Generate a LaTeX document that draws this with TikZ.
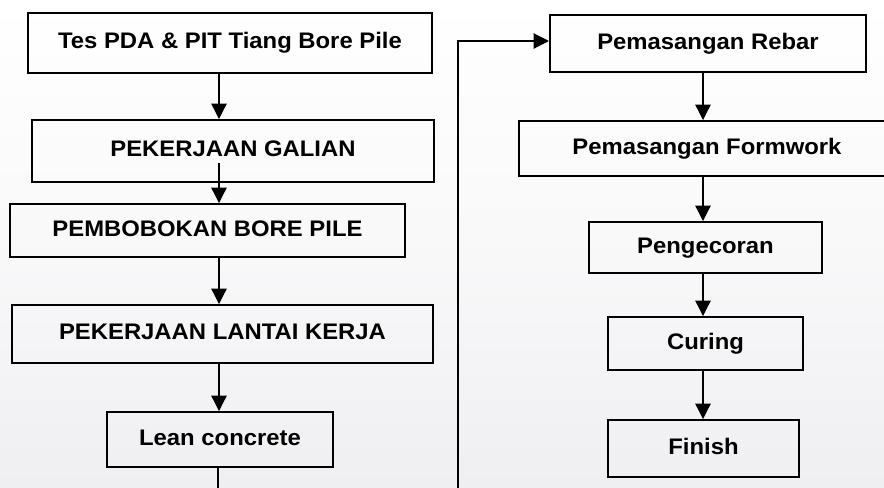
\documentclass[tikz,border=0pt]{standalone}
\usepackage{fontspec}
\setmainfont{Liberation Sans}[FakeStretch=1.06]
\usetikzlibrary{arrows.meta}
\definecolor{bggray}{RGB}{239,239,242}
\begin{document}
\begin{tikzpicture}[x=0.025cm, y=-0.025cm,
		box/.style={draw, line width=1.4pt, inner sep=0pt, text height=12pt, text depth=4pt,
			font=\bfseries\fontsize{16}{19}\selectfont},
		arr/.style={line width=0.9pt, -{Triangle[width=11pt,length=11pt]}}]
		% Page
		\useasboundingbox (0,0) rectangle (884,488);
		\shade[top color=white, bottom color=bggray, middle color=white!60!bggray] (0,0) rectangle (884,488);
		
		% Left column
		\node[box, minimum width=10.1cm, minimum height=1.5cm] (tes) at (230,43) {Tes PDA \& PIT Tiang Bore Pile};
		\node[box, minimum width=10.05cm, minimum height=1.55cm] (galian) at (233,151) {PEKERJAAN GALIAN};
		\node[box, minimum width=9.875cm, minimum height=1.325cm] (bobok) at (207.5,230.5) {PEMBOBOKAN BORE PILE};
		\node[box, minimum width=10.525cm, minimum height=1.45cm] (lantai) at (222.5,334) {PEKERJAAN LANTAI KERJA};
		\node[box, minimum width=5.65cm, minimum height=1.375cm] (lean) at (220,439.5) {Lean concrete};
		
		% Right column
		\node[box, minimum width=7.9cm, minimum height=1.425cm] (rebar) at (708,43.5) {Pemasangan Rebar};
		\node[box, minimum width=9.4cm, minimum height=1.375cm] (formwork) at (707,148.5) {Pemasangan Formwork};
		\node[box, minimum width=5.825cm, minimum height=1.275cm] (cor) at (705.5,247.5) {Pengecoran};
		\node[box, minimum width=4.875cm, minimum height=1.325cm] (curing) at (705.5,343.5) {Curing};
		\node[box, minimum width=4.775cm, minimum height=1.425cm] (finish) at (703.5,448.5) {Finish};
		
		% Spines
		\coordinate (lspine) at (219,0);
		\coordinate (rspine) at (703,0);
		\coordinate (galstart) at (219,163);
		\coordinate (low) at (0,520);
		\coordinate (turn) at (458,41);
		
		% Arrows
		\draw[arr] (tes.south -| lspine) -- (galian.north -| lspine);
		\draw[arr] (galstart) -- (bobok.north -| lspine);
		\draw[arr] (bobok.south -| lspine) -- (lantai.north -| lspine);
		\draw[arr] (lantai.south -| lspine) -- (lean.north -| lspine);
		\draw[arr] (rebar.south -| rspine) -- (formwork.north -| rspine);
		\draw[arr] (formwork.south -| rspine) -- (cor.north -| rspine);
		\draw[arr] (cor.south -| rspine) -- (curing.north -| rspine);
		\draw[arr] (curing.south -| rspine) -- (finish.north -| rspine);
		
		% Loop to the right column
		\draw[arr] (lean.south -| 218,0) |- (low) -| (turn) -- (rebar.west |- turn);
	\end{tikzpicture}
\end{document}
